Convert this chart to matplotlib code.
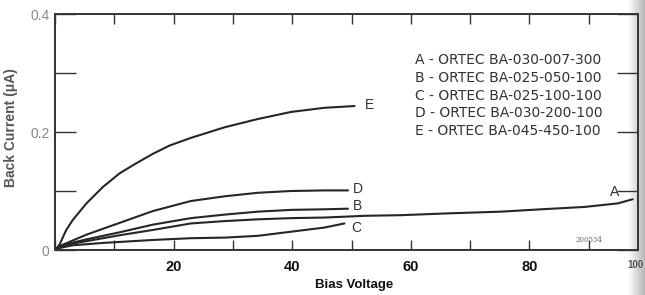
import matplotlib
matplotlib.use("Agg")
import matplotlib.pyplot as plt
import numpy as np

# Data
xA = [0, 0.6, 2.0, 5.3, 10.9, 16.5, 22.9, 28.6, 34.2, 39.8, 45.4, 52.4, 58.3, 66.0, 75.2, 82.0, 89.3, 94.9, 97.4]
yA = [0, 0.004, 0.009, 0.015, 0.025, 0.034, 0.045, 0.049, 0.052, 0.054, 0.055, 0.058, 0.059, 0.062, 0.065, 0.069, 0.073, 0.079, 0.086]
xB = [0, 0.6, 2.0, 5.3, 10.9, 16.5, 22.9, 28.6, 34.2, 39.8, 45.4, 49.4]
yB = [0, 0.005, 0.010, 0.018, 0.030, 0.043, 0.054, 0.060, 0.065, 0.068, 0.069, 0.070]
xC = [0, 0.6, 3.0, 8.1, 16.5, 22.9, 28.6, 34.2, 39.8, 45.4, 48.8]
yC = [0, 0.003, 0.008, 0.012, 0.017, 0.020, 0.021, 0.024, 0.031, 0.038, 0.045]
xD = [0, 0.6, 2.5, 5.3, 10.9, 16.5, 22.9, 28.6, 34.2, 39.8, 45.4, 49.4]
yD = [0, 0.006, 0.014, 0.026, 0.046, 0.066, 0.083, 0.091, 0.097, 0.100, 0.101, 0.101]
xE = [0, 0.4, 0.8, 1.35, 1.9, 3.0, 5.3, 8.1, 10.9, 13.7, 16.5, 19.3, 22.9, 28.6, 34.2, 39.8, 45.4, 50.5]
yE = [0, 0.004, 0.010, 0.022, 0.034, 0.051, 0.079, 0.107, 0.130, 0.147, 0.163, 0.177, 0.190, 0.208, 0.222, 0.234, 0.241, 0.244]

legend_lines = ["A - ORTEC BA-030-007-300",
                "B - ORTEC BA-025-050-100",
                "C - ORTEC BA-025-100-100",
                "D - ORTEC BA-030-200-100",
                "E - ORTEC BA-045-450-100"]

xticks = list(range(0, 91, 10))
xticklabels = ["", "", "20", "", "40", "", "60", "", "80", ""]
yticks = [0, 0.1, 0.2, 0.3, 0.4]
yticklabels = ["0", "", "0.2", "", "0.4"]

plt.rcParams['font.family'] = ['Liberation Sans', 'DejaVu Sans']

fig = plt.figure(figsize=(6.45, 2.95), dpi=100)
ax = fig.add_axes([55 / 645, 1 - 250 / 295, 583 / 645, 236 / 295])
lc = "#262626"
for xs, ys in [(xA, yA), (xB, yB), (xC, yC), (xD, yD), (xE, yE)]:
    ax.plot(xs, ys, color=lc, lw=1.5, solid_capstyle='round', solid_joinstyle='round')

ax.set_xlim(0, 98.3)
ax.set_ylim(0, 0.4)
ax.set_xticks(xticks)
ax.set_xticklabels(xticklabels, fontweight='bold', fontsize=10.5, color="#111111")
ax.set_yticks(yticks)
ax.set_yticklabels(yticklabels, fontsize=10, color="#888888")
ax.tick_params(axis='x', direction='in', length=7, width=1, top=True, color="#333333", pad=7)
ax.tick_params(axis='y', direction='in', length=15, width=1, right=True, color="#333333", pad=4)
for s in ax.spines.values():
    s.set_color("#333333")
    s.set_linewidth(1.4)

ax.set_xlabel("Bias Voltage", fontweight='bold', fontsize=9.5, color="#111111")
ax.xaxis.set_label_coords((354 - 55) / 583, -(279 - 250) / 236)
ax.set_ylabel("Back Current (\u03bcA)", fontweight='bold', fontsize=10, color="#555555")
ax.yaxis.set_label_coords(-(55 - 18) / 583, (250 - 128) / 236)

# curve labels
lab_kw = dict(fontsize=10, color="#333333", va='center', ha='left')
ax.text(52.3, 0.246, "E", **lab_kw)
ax.text(50.2, 0.103, "D", **lab_kw)
ax.text(50.2, 0.075, "B", **lab_kw)
ax.text(50.0, 0.038, "C", **lab_kw)
ax.text(93.6, 0.098, "A", **lab_kw)

for i, t in enumerate(legend_lines):
    fig.text(415 / 645, 1 - (60.5 + i * 17.6) / 295, t, fontsize=10, color="#333333",
             family='DejaVu Sans', va='center', ha='left')

fig.text(575 / 645, 1 - 240 / 295, "200534", fontsize=5, family='DejaVu Serif',
         color="#666666", va='center', ha='left')

# page-curl shading at the right edge
shade = fig.add_axes([628 / 645, 0, 17 / 645, 1], zorder=-1)
grad = np.linspace(1.0, 0.72, 64).reshape(1, -1)
shade.imshow(grad, aspect='auto', cmap='gray', vmin=0, vmax=1, extent=[0, 1, 0, 1])
shade.axis('off')
ax.set_zorder(1)
ax.patch.set_alpha(0)

fig.text(644 / 645, 1 - 265 / 295, "100", fontsize=7, fontweight='bold', color="#555555",
         ha='right', va='center')

fig.savefig("out.png", dpi=100, facecolor="white")
